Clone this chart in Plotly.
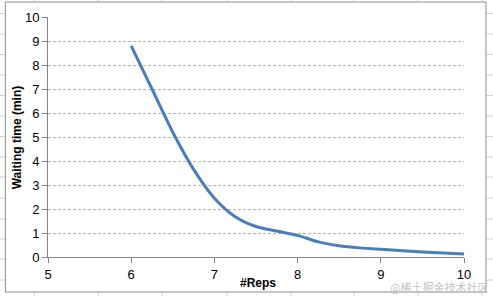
import plotly.graph_objects as go

reps = [6, 6.25, 6.5, 6.75, 7, 7.25, 7.5, 7.75, 8, 8.25, 8.5, 8.75, 9, 9.5, 10]
wait = [8.8, 7.0, 5.2, 3.65, 2.45, 1.68, 1.27, 1.08, 0.9, 0.63, 0.47, 0.38, 0.32, 0.21, 0.12]

W, H = 493, 296
L, R, T, B = 47.7, 464.0, 17.0, 257.0

def px(x):
    return (x - L) / (R - L)

def py(y):
    return (B - y) / (B - T)

shapes = []
grid_col = "#d4d4d4"
for gx in [34, 98, 162, 227, 291, 354, 418, 482]:
    shapes.append(dict(type="line", xref="paper", yref="paper", layer="below",
                       x0=px(gx), x1=px(gx), y0=py(-5), y1=py(300),
                       line=dict(color=grid_col, width=1)))
for gy in [-7, 13.5, 34, 54.5, 75, 95.5, 116, 136.5, 157, 177, 198, 219, 239, 259, 280, 300]:
    shapes.append(dict(type="line", xref="paper", yref="paper", layer="below",
                       x0=px(-5), x1=px(500), y0=py(gy), y1=py(gy),
                       line=dict(color=grid_col, width=1)))
shapes.append(dict(type="rect", xref="paper", yref="paper", layer="below",
                   x0=px(5), x1=px(486), y0=py(292), y1=py(2),
                   fillcolor="white", line=dict(color="#8c8c8c", width=1)))

fig = go.Figure()
fig.add_trace(go.Scatter(x=reps, y=wait, mode="lines",
                         line=dict(color="#4a7ebb", width=3, shape="spline", smoothing=0.8),
                         showlegend=False, hoverinfo="skip"))

font = dict(family="Liberation Sans, Arial, sans-serif", size=13, color="black")
tfont = dict(family="Liberation Sans, Arial, sans-serif", size=12, color="black")
fig.update_layout(
    width=W, height=H,
    margin=dict(l=L, r=W - R, t=T, b=H - B, pad=0, autoexpand=False),
    paper_bgcolor="white", plot_bgcolor="rgba(0,0,0,0)",
    font=font, shapes=shapes,
    xaxis=dict(range=[5, 10], tickvals=[5, 6, 7, 8, 9, 10], showgrid=False,
               showline=True, linecolor="#868686", linewidth=1,
               ticks="outside", ticklen=5, tickcolor="#868686",
               zeroline=False, tickfont=font, automargin=False),
    yaxis=dict(range=[0, 10], tickvals=list(range(0, 11)), showgrid=True,
               gridcolor="#b4b4b4", griddash="3px,2px", gridwidth=1,
               showline=True, linecolor="#868686", linewidth=1,
               ticks="outside", ticklen=5, tickcolor="#868686",
               zeroline=False, tickfont=font, automargin=False),
    annotations=[
        dict(text="<b>#Reps</b>", xref="paper", yref="paper",
             x=px(258), y=py(283), xanchor="center", yanchor="middle",
             showarrow=False, font=tfont),
        dict(text="<b>Waiting time (min)</b>", xref="paper", yref="paper",
             x=px(17), y=py(137), xanchor="center", yanchor="middle",
             textangle=-90, showarrow=False, font=tfont),
        dict(text="@稀土掘金技术社区", xref="paper", yref="paper",
             x=px(490), y=py(287), xanchor="right", yanchor="middle",
             showarrow=False,
             font=dict(family="Noto Sans CJK SC", size=11, color="#c4c4c4")),
    ],
)

fig.write_html("out.html")
